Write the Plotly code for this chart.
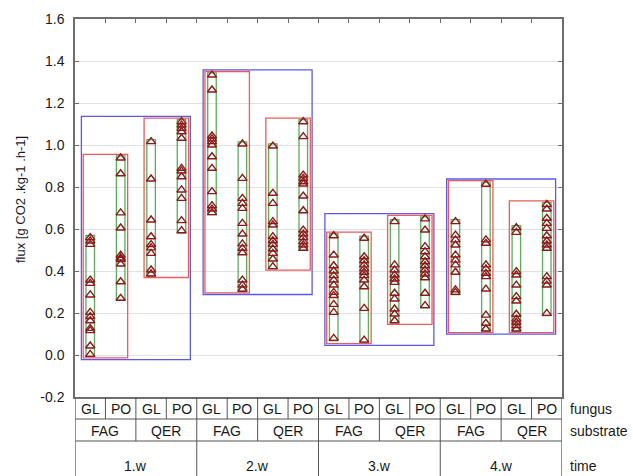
import plotly.graph_objects as go

# --- categories -------------------------------------------------------------
times = ["1.w", "2.w", "3.w", "4.w"]
substrates = ["FAG", "QER"]
fungi = ["GL", "PO"]

# --- CO2 flux per cell (time / substrate / fungus) --------------------------
w1_fag_gl = [0.559, 0.543, 0.527, 0.357, 0.341, 0.286, 0.203, 0.183, 0.163, 0.127, 0.116, 0.043, 0.003]
w1_fag_po = [0.938, 0.863, 0.677, 0.605, 0.475, 0.462, 0.455, 0.433, 0.349, 0.270]
w1_qer_gl = [1.016, 0.838, 0.643, 0.563, 0.526, 0.510, 0.484, 0.405, 0.386]
w1_qer_po = [1.111, 1.095, 1.079, 1.063, 1.032, 0.889, 0.876, 0.849, 0.786, 0.746, 0.640, 0.592]
w2_fag_gl = [1.333, 1.262, 1.043, 1.029, 1.016, 1.000, 0.944, 0.889, 0.778, 0.711, 0.695, 0.678]
w2_fag_po = [1.005, 0.841, 0.746, 0.722, 0.698, 0.627, 0.576, 0.529, 0.508, 0.487, 0.357, 0.333, 0.313]
w2_qer_gl = [0.995, 0.770, 0.722, 0.635, 0.619, 0.564, 0.544, 0.527, 0.505, 0.484, 0.457, 0.421]
w2_qer_po = [1.111, 1.040, 0.857, 0.841, 0.825, 0.814, 0.757, 0.687, 0.595, 0.576, 0.559, 0.540, 0.524, 0.508]
w3_fag_gl = [0.568, 0.476, 0.425, 0.400, 0.378, 0.357, 0.333, 0.298, 0.283, 0.241, 0.203, 0.079]
w3_fag_po = [0.556, 0.468, 0.449, 0.429, 0.410, 0.394, 0.378, 0.357, 0.325, 0.222, 0.071]
w3_qer_gl = [0.635, 0.429, 0.405, 0.381, 0.362, 0.346, 0.294, 0.267, 0.219, 0.195, 0.163]
w3_qer_po = [0.648, 0.595, 0.516, 0.492, 0.468, 0.444, 0.425, 0.405, 0.386, 0.368, 0.294, 0.235]
w4_fag_gl = [0.635, 0.571, 0.548, 0.524, 0.476, 0.452, 0.429, 0.394, 0.310, 0.298]
w4_fag_po = [0.813, 0.548, 0.532, 0.429, 0.410, 0.389, 0.373, 0.314, 0.190, 0.151, 0.124]
w4_qer_gl = [0.606, 0.584, 0.397, 0.381, 0.333, 0.278, 0.257, 0.194, 0.171, 0.156, 0.140, 0.124]
w4_qer_po = [0.717, 0.695, 0.651, 0.627, 0.603, 0.568, 0.543, 0.524, 0.508, 0.373, 0.352, 0.333, 0.198]

y_ticks = [-0.2, 0.0, 0.2, 0.4, 0.6, 0.8, 1.0, 1.2, 1.4, 1.6]
y_tick_labels = ["-0.2", "0.0", "0.2", "0.4", "0.6", "0.8", "1.0", "1.2", "1.4", "1.6"]

columns = [
    w1_fag_gl, w1_fag_po, w1_qer_gl, w1_qer_po,
    w2_fag_gl, w2_fag_po, w2_qer_gl, w2_qer_po,
    w3_fag_gl, w3_fag_po, w3_qer_gl, w3_qer_po,
    w4_fag_gl, w4_fag_po, w4_qer_gl, w4_qer_po,
]
n_cols = len(columns)

FONT = "Liberation Sans, Arial, sans-serif"
GREEN = "#5aad5a"
RED = "#f05a5a"
BLUE = "#5a5af0"
TRI = "#8b1a1a"
FRAME = "#6e6e6e"
TABLE = "#555555"

# figure geometry (pixels) used to place the category table under the plot
W, H = 633, 476
L, R, T, B = 75, 71, 19, 79
plot_h = H - T - B


def py(pix):
    """Pixel row -> paper y coordinate."""
    return (H - B - pix) / plot_h


fig = go.Figure()

for i, vals in enumerate(columns):
    fig.add_trace(go.Scatter(
        x=[i + 0.5] * len(vals), y=vals, mode="markers",
        marker=dict(symbol="triangle-up-open", size=8, color=TRI,
                    line=dict(width=1.4, color=TRI)),
        showlegend=False, hoverinfo="y",
    ))

shapes = []

# range boxes: fungus (green), substrate (red), time (blue)
for i, vals in enumerate(columns):
    shapes.append(dict(type="rect", xref="x", yref="y", layer="between",
                       x0=i + 0.5 - 0.14, x1=i + 0.5 + 0.14,
                       y0=min(vals) - 0.010, y1=max(vals) + 0.010,
                       line=dict(color=GREEN, width=1.3)))
for j in range(n_cols // 2):
    vals = columns[2 * j] + columns[2 * j + 1]
    shapes.append(dict(type="rect", xref="x", yref="y", layer="between",
                       x0=2 * j + 0.5 - 0.23, x1=2 * j + 1.5 + 0.23,
                       y0=min(vals) - 0.017, y1=max(vals) + 0.017,
                       line=dict(color=RED, width=1.3)))
for t in range(n_cols // 4):
    vals = sum(columns[4 * t:4 * t + 4], [])
    shapes.append(dict(type="rect", xref="x", yref="y", layer="between",
                       x0=4 * t + 0.5 - 0.29, x1=4 * t + 3.5 + 0.29,
                       y0=min(vals) - 0.025, y1=max(vals) + 0.025,
                       line=dict(color=BLUE, width=1.3)))

# category table below the plot
row_fungus, row_sub, row_end = 419, 441, 480
for ypix in (row_fungus, row_sub):
    shapes.append(dict(type="line", xref="x", yref="paper", x0=0, x1=n_cols,
                       y0=py(ypix), y1=py(ypix), line=dict(color=TABLE, width=1)))
for k in range(n_cols + 1):
    if k % 4 == 0:
        bottom = row_end
    elif k % 2 == 0:
        bottom = row_sub
    else:
        bottom = row_fungus
    shapes.append(dict(type="line", xref="x", yref="paper", x0=k, x1=k,
                       y0=0, y1=py(bottom),
                       line=dict(color=TABLE if 0 < k < n_cols else FRAME,
                                 width=1 if 0 < k < n_cols else 1.5)))

annotations = []
cell_font = dict(family=FONT, size=14, color="#1a1a1a")
for t, tname in enumerate(times):
    annotations.append(dict(text=tname, x=4 * t + 2, y=py(466), xref="x", yref="paper",
                            showarrow=False, font=cell_font, xanchor="center", yanchor="middle"))
    for s, sname in enumerate(substrates):
        annotations.append(dict(text=sname, x=4 * t + 2 * s + 1, y=py(431), xref="x", yref="paper",
                                showarrow=False, font=cell_font, xanchor="center", yanchor="middle"))
        for f, fname in enumerate(fungi):
            annotations.append(dict(text=fname, x=4 * t + 2 * s + f + 0.5, y=py(409),
                                    xref="x", yref="paper", showarrow=False, font=cell_font,
                                    xanchor="center", yanchor="middle"))
for label, ypix in (("fungus", 409), ("substrate", 431), ("time", 466)):
    annotations.append(dict(text=label, x=(W - R - L + 6) / (W - L - R), y=py(ypix),
                            xref="paper", yref="paper", showarrow=False, font=cell_font,
                            xanchor="left", yanchor="middle"))

annotations.append(dict(text="flux [g CO2 .kg-1 .h-1]", textangle=-90,
                        x=(20 - L) / (W - L - R), y=py(200), xref="paper", yref="paper",
                        showarrow=False, xanchor="center", yanchor="middle",
                        font=dict(family=FONT, size=13, color="#1a1a1a")))

fig.update_layout(
    width=W, height=H,
    margin=dict(l=L, r=R, t=T, b=B, pad=0),
    paper_bgcolor="white", plot_bgcolor="white",
    font=dict(family=FONT, size=14, color="#1a1a1a"),
    shapes=shapes, annotations=annotations,
    xaxis=dict(range=[0, n_cols], side="top", showgrid=False, zeroline=False,
               showline=True, mirror=True, linecolor=FRAME, linewidth=1.5,
               ticks="inside", tickvals=list(range(1, n_cols)), ticklen=4,
               tickcolor=FRAME, showticklabels=False),
    yaxis=dict(range=[-0.2, 1.6], tickvals=y_ticks, ticktext=y_tick_labels,
               showgrid=True, gridcolor="#e2e2e2", gridwidth=1, zeroline=False,
               showline=True, mirror="ticks", linecolor=FRAME, linewidth=1.5,
               ticks="inside", ticklen=4, tickcolor=FRAME,
               ticklabelstandoff=6,
               tickfont=dict(family=FONT, size=14, color="#1a1a1a")),
)

fig.write_html("out.html")
